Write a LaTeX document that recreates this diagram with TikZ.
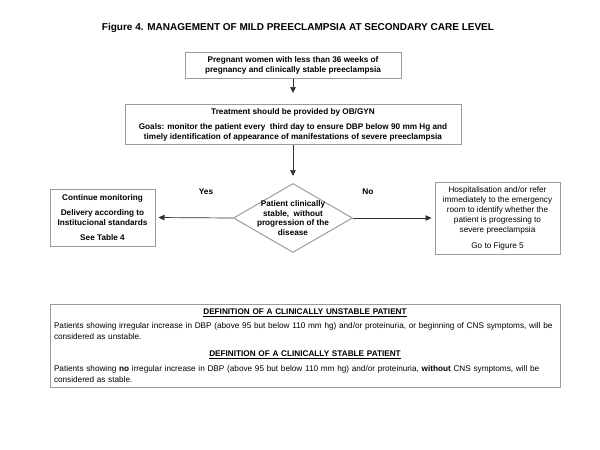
\documentclass[tikz,border=0pt]{standalone}
\usepackage{fontspec}
\setmainfont{Liberation Sans}
\usetikzlibrary{shapes.geometric,arrows.meta,positioning}
\definecolor{boxgray}{HTML}{9C9C9C}
\definecolor{linegray}{HTML}{303030}

\begin{document}
\begin{tikzpicture}[x=1pt,y=-1pt]
		\tikzstyle{boxstyle} = [draw=boxgray,line width=1pt,align=center,inner sep=2pt,font=\fontsize{8.2}{10}\selectfont\bfseries]
		\tikzstyle{linestyle} = [->,>={Triangle[length=6pt,width=5.5pt]},line width=.7pt,linegray]
		\tikzstyle{answerstyle} = [font=\fontsize{8.3}{10}\selectfont\bfseries]
		\useasboundingbox (0,0) rectangle (600,450);
		% title
		\node[font=\fontsize{10}{12}\selectfont\bfseries] (title) at (298,28) {Figure 4. MANAGEMENT OF MILD PREECLAMPSIA AT SECONDARY CARE LEVEL};
		% flow
		\node[boxstyle,minimum width=216pt,minimum height=26pt] (pregnant) at (293,65) {Pregnant women with less than 36 weeks of\\pregnancy and clinically stable preeclampsia};
		\node[boxstyle,minimum width=336pt,minimum height=40pt] (treatment) at (293,124.5) {Treatment should be provided by OB/GYN\\[5pt]
		Goals: monitor the patient every\ \ third day to ensure DBP below 90 mm Hg and\\timely identification of appearance of manifestations of severe preeclampsia};
		\node[diamond,draw=boxgray,line width=1pt,inner sep=0pt,minimum width=119pt,minimum height=69pt,
		label={[align=center,font=\fontsize{8.2}{9.6}\selectfont\bfseries]center:Patient clinically\\stable,\ \ without\\progression of the\\disease}] (stable) at (293,218) {};
		\node[boxstyle,minimum width=105pt,minimum height=57pt] (monitor) at (102.5,217.5) {Continue monitoring\\[5pt]Delivery according to\\Institucional standards\\[5pt]See Table 4};
		\node[boxstyle,font=\fontsize{8.2}{10.2}\selectfont,minimum width=125pt,minimum height=72pt] (hospital) at (497.5,218) {Hospitalisation and/or refer\\immediately to the emergency\\room to identify whether the\\patient is progressing to\\severe preeclampsia\\[5pt]Go to Figure 5};
		\node[answerstyle] (yes) at (206,192) {Yes};
		\node[answerstyle] (no) at (368,192) {No};
		\draw[linestyle,shorten >=11pt] (pregnant) -- (treatment);
		\draw[linestyle,shorten >=7pt] (treatment) -- (stable);
		\draw[linestyle,shorten >=3pt] (stable.west) -- (monitor.east);
		\draw[linestyle,shorten >=3pt] (stable.east) -- (hospital.west);
		% definitions
		\node[boxstyle,font=\fontsize{8.2}{11}\selectfont,align=left,inner sep=4pt,text width=502pt,minimum width=510pt,minimum height=83pt] (definitions) at (305,345.5) {%
		{\centering\bfseries\underline{DEFINITION OF A CLINICALLY UNSTABLE PATIENT}\par}\vspace{3pt}
		Patients showing irregular increase in DBP (above 95 but below 110 mm hg) and/or proteinuria, or beginning of CNS symptoms, will be\\considered as unstable.\par\vspace{6pt}
		{\centering\bfseries\underline{DEFINITION OF A CLINICALLY STABLE PATIENT}\par}\vspace{4pt}
		Patients showing \textbf{no} irregular increase in DBP (above 95 but below 110 mm hg) and/or proteinuria, \textbf{without} CNS symptoms, will be\\considered as stable.};
\end{tikzpicture}
\end{document}
